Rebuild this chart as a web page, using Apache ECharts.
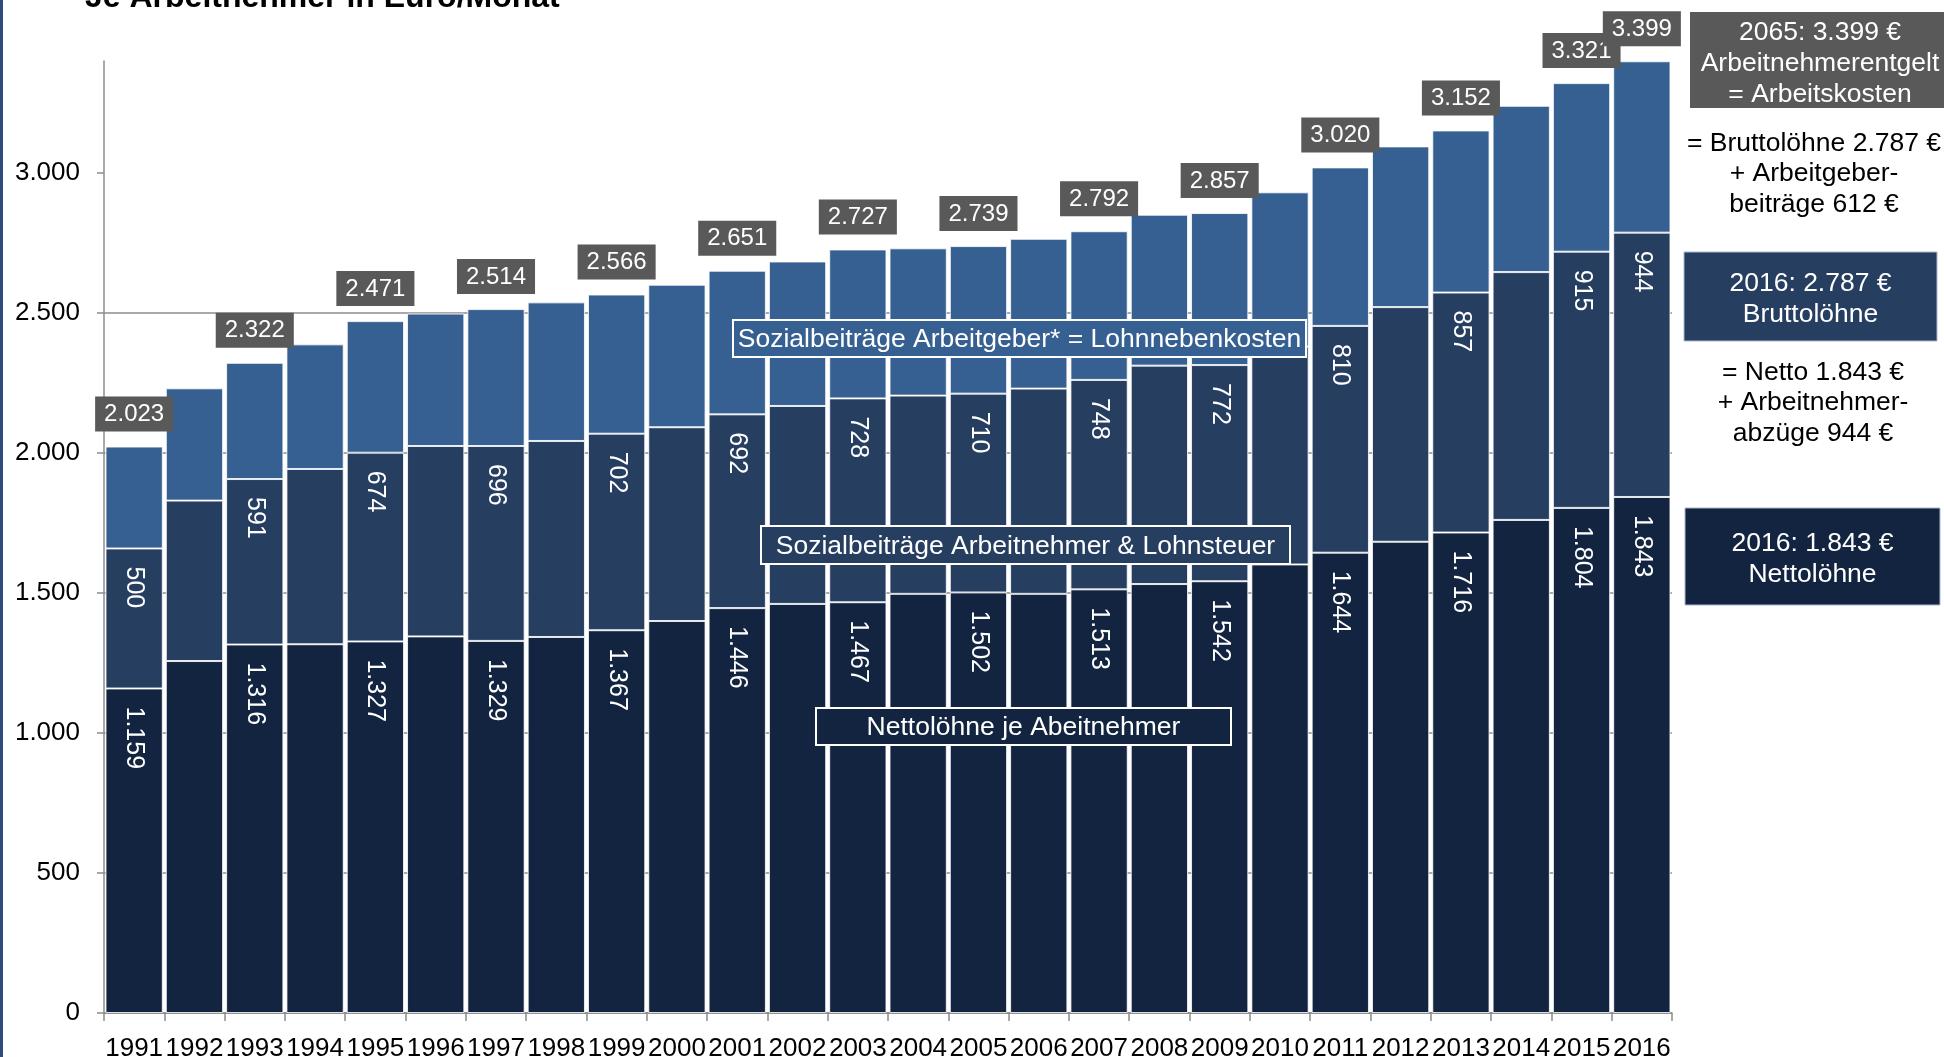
<!DOCTYPE html>
<html>
<head>
<meta charset="utf-8">
<script src="https://cdn.jsdelivr.net/npm/echarts@6/dist/echarts.min.js"></script>
<style>
  html, body { margin: 0; padding: 0; background: #ffffff; }
  #chart { width: 1944px; height: 1057px; }
</style>
</head>
<body>
<div id="chart"></div>
<script>
  // Werte je Arbeitnehmer in Euro/Monat
  const years = ['1991', '1992', '1993', '1994', '1995', '1996', '1997', '1998', '1999', '2000', '2001', '2002', '2003',
    '2004', '2005', '2006', '2007', '2008', '2009', '2010', '2011', '2012', '2013', '2014', '2015', '2016'];
  const netto = [1159, 1257, 1316, 1317, 1327, 1345, 1329, 1343, 1367, 1400, 1446, 1461, 1467,
    1497, 1502, 1497, 1513, 1532, 1542, 1602, 1644, 1683, 1716, 1761, 1804, 1843];
  const anAbzuege = [500, 573, 591, 626, 674, 680, 696, 700, 702, 692, 692, 707, 728,
    708, 710, 733, 748, 780, 772, 778, 810, 838, 857, 885, 915, 944];
  const agBeitraege = [364, 401, 415, 445, 470, 473, 489, 495, 497, 509, 513, 516, 532,
    526, 527, 535, 531, 539, 543, 551, 566, 574, 579, 594, 602, 612];
  const yTicks = [0, 500, 1000, 1500, 2000, 2500, 3000];

  const FONT = '"Liberation Sans", Arial, sans-serif';
  const C_TOP = '#366092';
  const C_MID = '#263e60';
  const C_BOT = '#122440';
  const C_GREY = '#595959';

  // 1.159 statt 1159
  function fmt(v) {
    return String(v).replace(/\B(?=(\d{3})+(?!\d))/g, '.');
  }

  const totals = years.map((y, i) => netto[i] + anAbzuege[i] + agBeitraege[i]);
  // beschriftet wird jedes zweite Jahr und das letzte
  const shown = i => i % 2 === 0 || i === years.length - 1;
  const toData = vals => vals.map((v, i) => ({value: v, label: {show: shown(i)}}));

  const innerLabel = {
    position: 'insideTop',
    rotate: -90,
    align: 'left',
    verticalAlign: 'middle',
    distance: 18,
    color: '#ffffff',
    fontSize: 25,
    fontFamily: FONT,
    formatter: p => fmt(p.value)
  };
  const barBorder = {borderColor: 'rgba(255,255,255,0.8)', borderWidth: 1};

  function box(x, y, w, h, fill, stroke, lw, text, dy) {
    return {
      type: 'group',
      z: 100,
      children: [
        {
          type: 'rect', z: 100,
          shape: {x: x, y: y, width: w, height: h},
          style: {fill: fill, stroke: stroke, lineWidth: lw}
        },
        {
          type: 'text', z: 101,
          x: x + w / 2, y: y + h / 2 + (dy || 0),
          style: {
            text: text, fill: '#ffffff', font: '26.5px ' + FONT,
            align: 'center', verticalAlign: 'middle', lineHeight: 31
          }
        }
      ]
    };
  }

  function plainText(x, y, text) {
    return {
      type: 'text', z: 100, x: x, y: y,
      style: {
        text: text, fill: '#000000', font: '26.5px ' + FONT,
        align: 'center', verticalAlign: 'middle', lineHeight: 30.5
      }
    };
  }

  const chart = echarts.init(document.getElementById('chart'));
  chart.setOption({
    backgroundColor: '#ffffff',
    animation: false,
    grid: {left: 104, right: 272, top: 61, bottom: 44, outerBoundsMode: 'none'},
    xAxis: {
      type: 'category',
      data: years,
      axisLine: {lineStyle: {color: '#8c8c8c', width: 1.5}},
      axisTick: {show: true, length: 8, alignWithLabel: false, lineStyle: {color: '#8c8c8c', width: 1.5}},
      axisLabel: {interval: 0, margin: 23, fontSize: 26, color: '#000000', fontFamily: FONT}
    },
    yAxis: {
      type: 'value',
      min: 0,
      max: 3400,
      interval: 500,
      axisLine: {show: true, lineStyle: {color: '#8c8c8c', width: 1.5}},
      axisTick: {show: true, length: 7, customValues: yTicks, lineStyle: {color: '#8c8c8c', width: 1.5}},
      axisLabel: {customValues: yTicks, margin: 24, fontSize: 26, color: '#000000', fontFamily: FONT, formatter: fmt},
      splitLine: {show: true, showMaxLine: false, lineStyle: {color: '#8c8c8c', width: 1.5}}
    },
    series: [
      {
        name: 'Nettolöhne',
        type: 'bar',
        stack: 'lohn',
        barCategoryGap: '5%',
        data: toData(netto),
        itemStyle: Object.assign({color: C_BOT}, barBorder),
        label: innerLabel
      },
      {
        name: 'Sozialbeiträge Arbeitnehmer & Lohnsteuer',
        type: 'bar',
        stack: 'lohn',
        data: toData(anAbzuege),
        itemStyle: Object.assign({color: C_MID}, barBorder),
        label: innerLabel
      },
      {
        name: 'Sozialbeiträge Arbeitgeber',
        type: 'bar',
        stack: 'lohn',
        data: toData(agBeitraege),
        itemStyle: Object.assign({color: C_TOP}, barBorder),
        label: {
          position: 'top',
          distance: 15,
          color: '#ffffff',
          fontSize: 24,
          fontFamily: FONT,
          backgroundColor: C_GREY,
          padding: [6, 9, 5, 9],
          formatter: p => fmt(totals[p.dataIndex])
        }
      }
    ],
    graphic: [
      // linker Folienrand
      {type: 'rect', z: 100, shape: {x: 0, y: 0, width: 3, height: 1057}, style: {fill: '#2f4d78'}},
      {
        type: 'text', z: 100, x: 85, y: -2,
        style: {
          text: 'Je Arbeitnehmer in Euro/Monat', fill: '#000000',
          font: 'bold 32px ' + FONT, align: 'left', verticalAlign: 'middle'
        }
      },
      box(733, 320, 573, 37, C_TOP, '#ffffff', 2, 'Sozialbeiträge Arbeitgeber* = Lohnnebenkosten', 1.5),
      box(761, 526, 529, 38, C_MID, '#ffffff', 2, 'Sozialbeiträge Arbeitnehmer & Lohnsteuer', 1.5),
      box(816, 708, 415, 37, C_BOT, '#ffffff', 2, 'Nettolöhne je Abeitnehmer', 1.5),
      box(1690, 12, 260, 96, C_GREY, null, 0, '2065: 3.399 €\nArbeitnehmerentgelt\n= Arbeitskosten', 4),
      plainText(1814, 174, '= Bruttolöhne 2.787 €\n+ Arbeitgeber-\nbeiträge 612 €'),
      box(1684, 252, 253, 89, C_MID, '#aab8cc', 1, '2016: 2.787 €\nBruttolöhne', 3),
      plainText(1813, 403, '= Netto 1.843 €\n+ Arbeitnehmer-\nabzüge 944 €'),
      box(1685, 508, 255, 97, C_BOT, '#aab8cc', 1, '2016: 1.843 €\nNettolöhne', 3)
    ]
  });
</script>
</body>
</html>
